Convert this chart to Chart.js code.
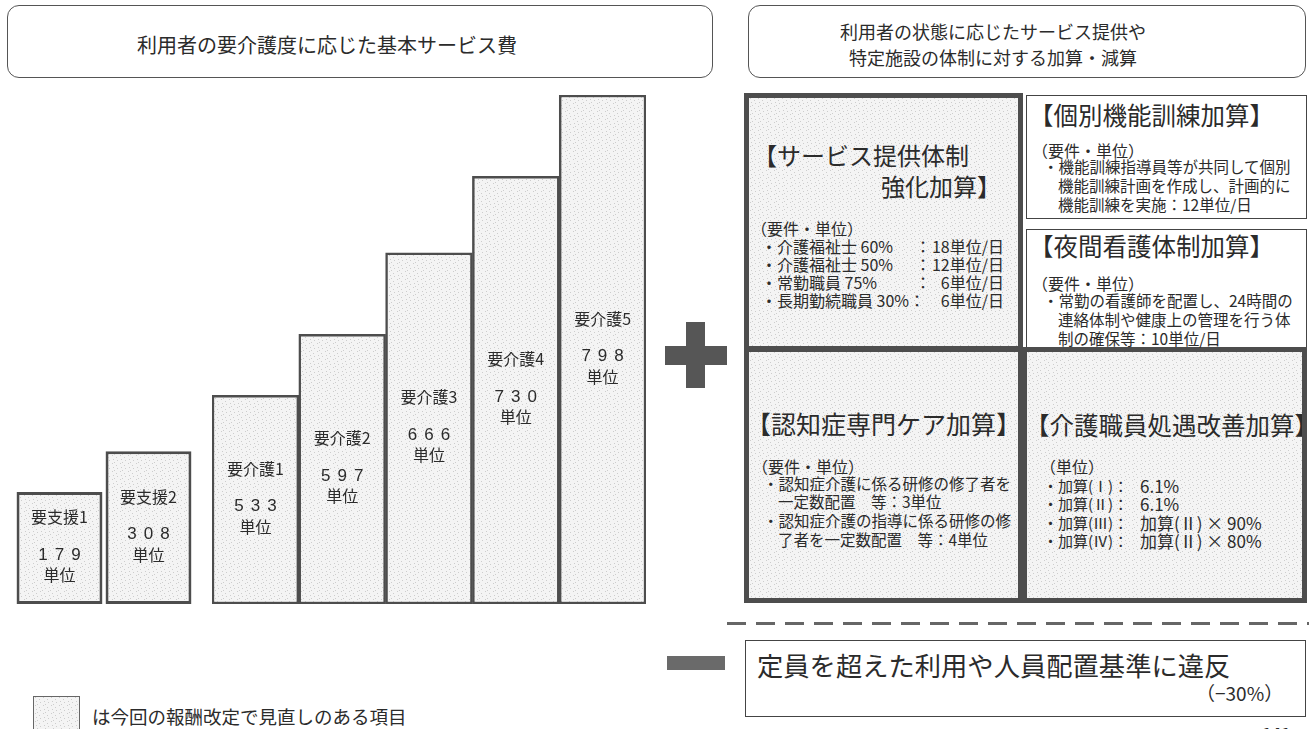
<!DOCTYPE html>
<html lang="ja">
<head>
<meta charset="utf-8">
<script src="https://cdn.jsdelivr.net/npm/chart.js@4.4.1/dist/chart.umd.min.js"></script>
<style>
  html, body { margin: 0; padding: 0; background: #fff; }
  body {
    width: 1312px; height: 729px; position: relative; overflow: hidden;
    font-family: "Noto Sans CJK JP", "Noto Sans", sans-serif; color: #2b2b2b;
  }
  canvas { position: absolute; }
  .hdr { position: absolute; box-sizing: border-box; border: 1.5px solid #555; border-radius: 12px; }
  .box { position: absolute; box-sizing: border-box; overflow: hidden; }
  .thick { border: 5px solid #4d4d4d; }
  .thin { border: 1.5px solid #444; background: #fff; }
  .t { position: absolute; white-space: nowrap; line-height: 1; }
  .mark { position: absolute; background: #565656; }
</style>
</head>
<body>

<div class="hdr" style="left:7px; top:5px; width:706px; height:73px;"></div>
<div class="hdr" style="left:748px; top:5px; width:558px; height:73px;"></div>

<canvas id="shienChart" width="178" height="509" style="left:15px; top:95px;"></canvas>
<canvas id="kaigoChart" width="434" height="509" style="left:212px; top:95px;"></canvas>

<div class="box thick stip" style="left:744px; top:93px; width:279px; height:258px;"></div>
<div class="box thin" style="left:1026px; top:95px; width:281px; height:124px;"></div>
<div class="box thin" style="left:1026px; top:229px; width:281px; height:119px;"></div>
<div class="box thick stip" style="left:744px; top:347px; width:279px; height:256px;"></div>
<div class="box thick stip" id="boxE" style="left:1022px; top:347px; width:285px; height:256px;"></div>

<!-- plus / minus -->
<div class="mark" style="left:686px; top:322px; width:19px; height:66px;"></div>
<div class="mark" style="left:665px; top:346px; width:62px; height:19px;"></div>
<div class="mark" style="left:667px; top:656px; width:58px; height:14px; background:#6a6a6a;"></div>

<div style="position:absolute; left:727px; top:622px; width:582px; height:3px;
  background: repeating-linear-gradient(to right, #666 0 19px, transparent 19px 29px);"></div>

<div class="box thin" style="left:745px; top:640px; width:561px; height:77px;"></div>

<div class="box stip" style="left:33px; top:696px; width:47px; height:40px; border:1px solid #666;"></div>

<script>
// 基本サービス費（要支援・要介護）
const shienLabels = ["要支援1", "要支援2"];
const shienUnits = [179, 308];
// 図の段差の高さ（一番高い棒を100とした目安）
const shienStepHeights = [22, 30];

const kaigoLabels = ["要介護1", "要介護2", "要介護3", "要介護4", "要介護5"];
const kaigoUnits = [533, 597, 666, 730, 798];
const kaigoStepHeights = [41, 53, 69, 84, 100];

// 網掛けの模様（見直しのある項目）
function makeStipple() {
  const c = document.createElement("canvas");
  c.width = 8;
  c.height = 8;
  const g = c.getContext("2d");
  g.fillStyle = "#f4f4f4";
  g.fillRect(0, 0, 8, 8);
  g.fillStyle = "#cdcdcd";
  const dots = [[1, 0], [5, 2], [2, 4], [6, 5], [3, 7]];
  dots.forEach(([x, y]) => g.fillRect(x, y, 1, 1));
  return c;
}
const stippleCanvas = makeStipple();
const stipple = stippleCanvas.getContext("2d").createPattern(stippleCanvas, "repeat");
const stippleUrl = stippleCanvas.toDataURL();
document.querySelectorAll(".stip").forEach((el) => {
  el.style.backgroundImage = `url(${stippleUrl})`;
});

// 棒の中の文字（区分・単位数）
const barLabels = {
  id: "barLabels",
  afterDatasetsDraw(chart) {
    const ctx = chart.ctx;
    const units = chart.data.datasets[0].units;
    chart.getDatasetMeta(0).data.forEach((bar, i) => {
      const mid = (bar.y + bar.base) / 2;
      ctx.save();
      ctx.fillStyle = "#2b2b2b";
      ctx.textAlign = "center";
      ctx.textBaseline = "middle";
      ctx.font = '16px "Noto Sans CJK JP"';
      ctx.fillText(chart.data.labels[i], bar.x, mid - 31);
      ctx.font = '17px "Liberation Sans"';
      ctx.letterSpacing = "7px";
      ctx.fillText(String(units[i]), bar.x + 3.5, mid + 7);
      ctx.letterSpacing = "0px";
      ctx.font = '16px "Noto Sans CJK JP"';
      ctx.fillText("単位", bar.x, mid + 27);
      ctx.restore();
    });
  },
};

function makeBarChart(id, labels, heights, units, bw, barPct) {
  return new Chart(document.getElementById(id), {
    type: "bar",
    data: {
      labels: labels,
      datasets: [
        {
          data: heights,
          units: units,
          backgroundColor: stipple,
          borderColor: "#4d4d4d",
          borderWidth: bw,
          borderSkipped: false,
          barPercentage: barPct,
          categoryPercentage: 1,
        },
      ],
    },
    options: {
      responsive: false,
      animation: false,
      layout: { padding: 0 },
      plugins: { legend: { display: false }, tooltip: { enabled: false } },
      scales: {
        x: { display: false },
        y: { display: false, min: 0, max: 100 },
      },
    },
    plugins: [barLabels],
  });
}

makeBarChart("shienChart", shienLabels, shienStepHeights, shienUnits, 3, 0.965);
makeBarChart("kaigoChart", kaigoLabels, kaigoStepHeights, kaigoUnits, 2.5, 1);

// 文字を置く
function txt(s, x, cy, size, extra, parent) {
  const d = document.createElement("div");
  d.className = "t";
  d.textContent = s;
  d.style.left = x + "px";
  d.style.top = cy - size / 2 + "px";
  d.style.fontSize = size + "px";
  if (extra) Object.assign(d.style, extra);
  (parent || document.body).appendChild(d);
  return d;
}
// 右寄せ
function rtxt(s, right, cy, size) {
  return txt(s, 0, cy, size, { left: "", right: 1312 - right + "px" });
}

txt("利用者の要介護度に応じた基本サービス費", 137, 45, 20);
txt("利用者の状態に応じたサービス提供や", 840, 31, 18);
txt("特定施設の体制に対する加算・減算", 849, 57, 18);

// サービス提供体制強化加算
txt("【サービス提供体制", 753, 155, 24);
txt("強化加算】", 881, 186, 24);
txt("（要件・単位）", 751, 228, 16);
txt("・介護福祉士 60%", 761, 246, 16);
txt("・介護福祉士 50%", 761, 264, 16);
txt("・常勤職員 75%", 761, 282, 16);
txt("・長期勤続職員 30%", 761, 300, 16);
txt("：", 915, 246, 16);
txt("：", 915, 264, 16);
txt("：", 915, 282, 16);
txt("：", 909, 300, 16);
rtxt("18単位/日", 1004, 246, 16);
rtxt("12単位/日", 1004, 264, 16);
rtxt("6単位/日", 1004, 282, 16);
rtxt("6単位/日", 1004, 300, 16);

// 個別機能訓練加算
txt("【個別機能訓練加算】", 1029, 115, 24.5);
txt("（要件・単位）", 1032, 150, 16);
txt("・機能訓練指導員等が共同して個別", 1043, 167, 15.5);
txt("機能訓練計画を作成し、計画的に", 1058, 186, 15.5);
txt("機能訓練を実施：12単位/日", 1058, 205, 15.5);

// 夜間看護体制加算
txt("【夜間看護体制加算】", 1029, 246, 24.5);
txt("（要件・単位）", 1032, 283, 16);
txt("・常勤の看護師を配置し、24時間の", 1043, 301, 15.5);
txt("連絡体制や健康上の管理を行う体", 1058, 320, 15.5);
txt("制の確保等：10単位/日", 1058, 339, 15.5);

// 認知症専門ケア加算
txt("【認知症専門ケア加算】", 746, 423, 25);
txt("（要件・単位）", 752, 466, 16);
txt("・認知症介護に係る研修の修了者を", 763, 484, 15.5);
txt("一定数配置　等：3単位", 778, 502, 15.5);
txt("・認知症介護の指導に係る研修の修", 763, 521, 15.5);
txt("了者を一定数配置　等：4単位", 778, 540, 15.5);

// 介護職員処遇改善加算（右端は枠で切れる）
const boxE = document.getElementById("boxE");
txt("【介護職員処遇改善加算】", -2, 425 - 352, 24.5, null, boxE);
txt("（単位）", 1040, 466, 16);
txt("・加算(Ⅰ)：", 1043, 485, 15);
txt("・加算(Ⅱ)：", 1043, 503, 15);
txt("・加算(Ⅲ)：", 1043, 522, 15);
txt("・加算(Ⅳ)：", 1043, 540, 15);
txt("6.1%", 1140, 485, 17);
txt("6.1%", 1140, 503, 17);
txt("加算(Ⅱ) × 90%", 1140, 522, 17);
txt("加算(Ⅱ) × 80%", 1140, 540, 17);

// 減算
txt("定員を超えた利用や人員配置基準に違反", 757, 665, 26.3);
txt("（−30%）", 1196, 692, 19);

txt("は今回の報酬改定で見直しのある項目", 92, 716, 18.5);
txt("141", 1262, 733, 16, { fontWeight: "bold" });
</script>
</body>
</html>
